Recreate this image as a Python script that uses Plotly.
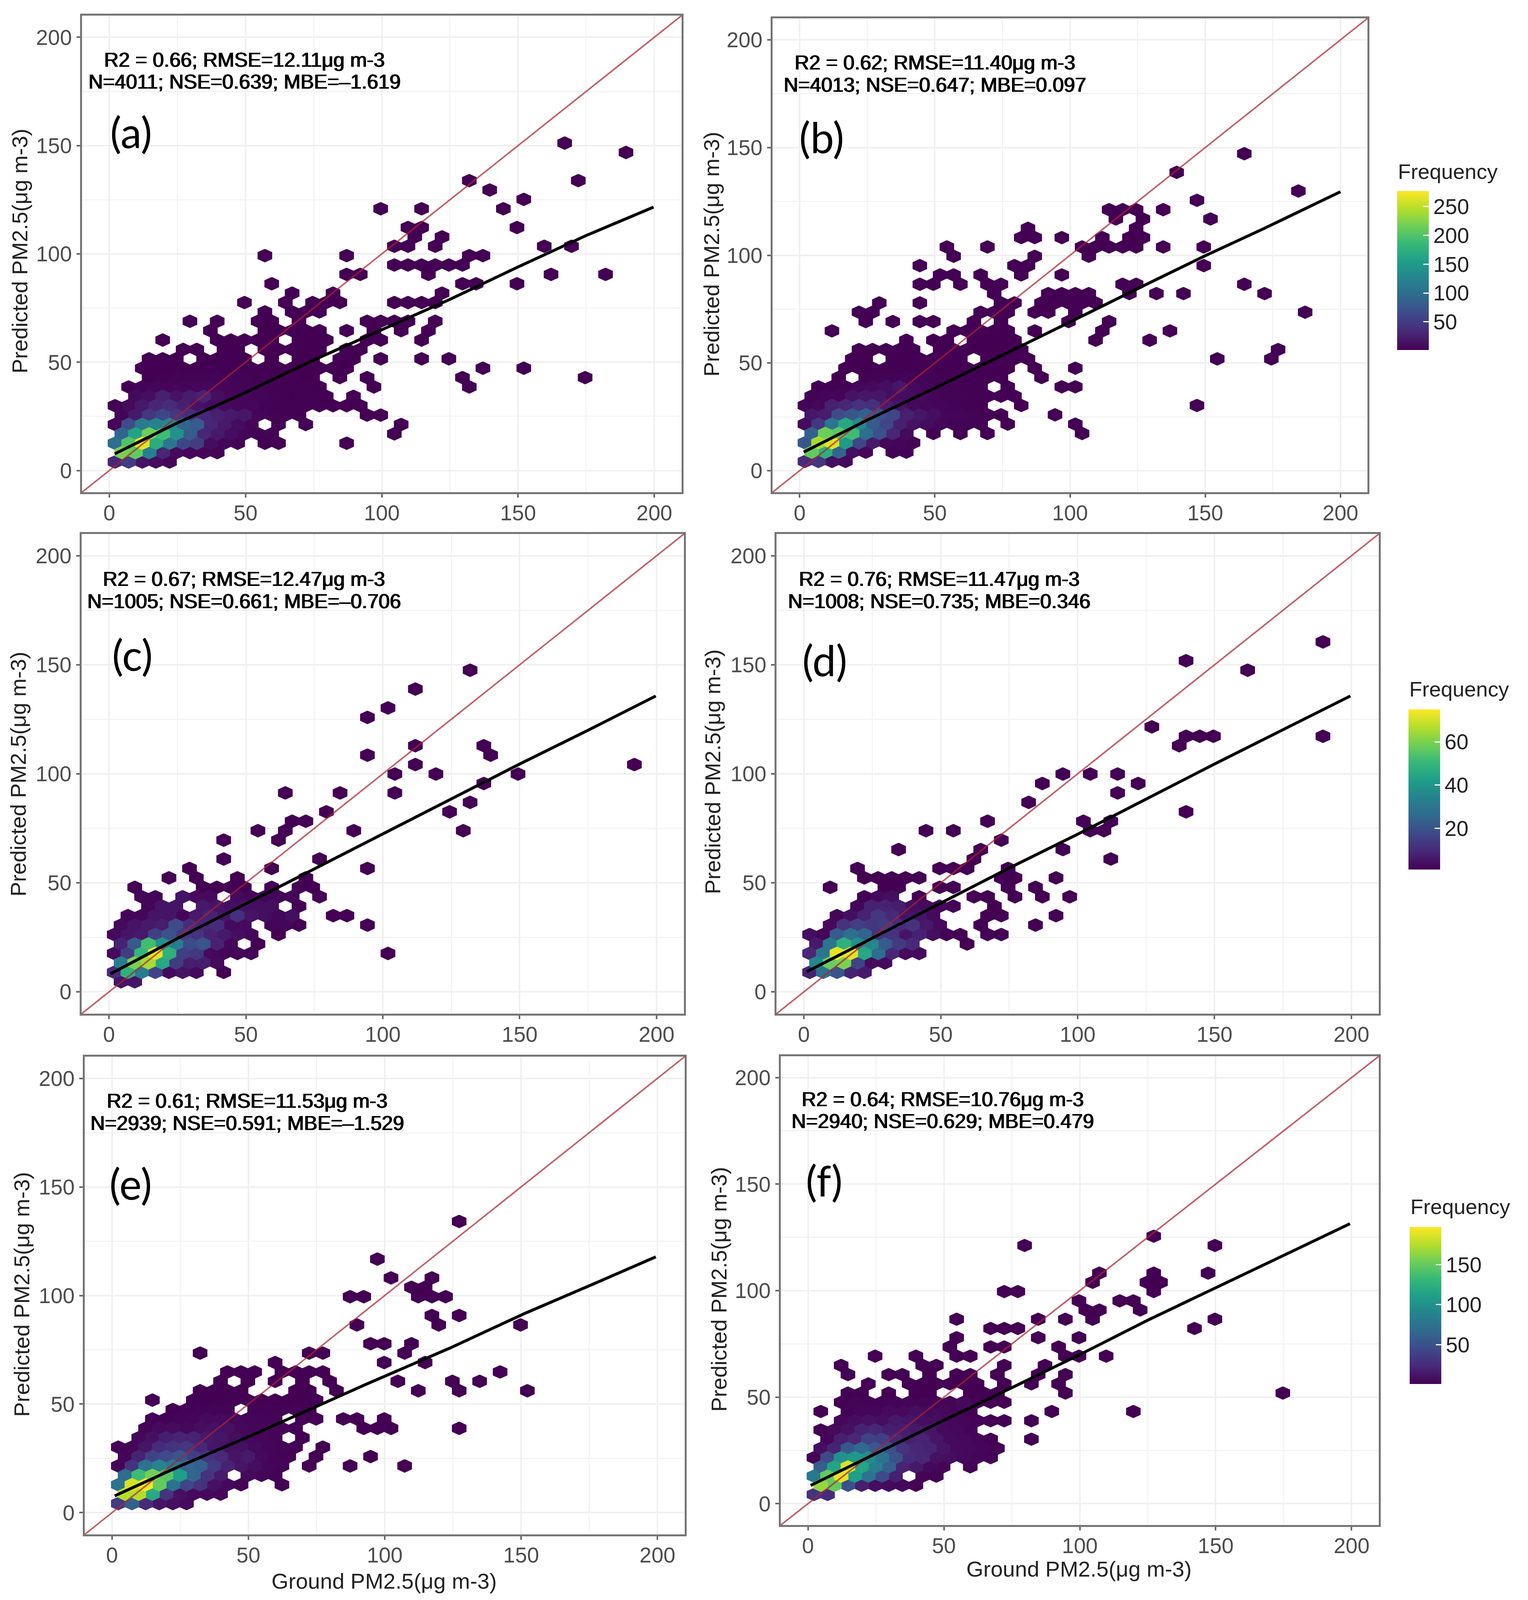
from itertools import zip_longest
import plotly.graph_objects as go
from plotly.colors import sample_colorscale

W, H = 3912, 4121
HEX_DX = 5.0
HEX_DY = 4.33

# Occupied hexagon bins: one list of column numbers per row, bottom row first.
a_cols = [[0,1,2,3,4],[0,1,2,3,4,5,6,7],[0,1,2,3,4,5,6,7,8,9,11,12,17],[0,1,2,3,4,5,6,7,8,9,10,11,20],
 [0,1,2,3,4,5,6,7,8,9,10,12,14,21],[0,1,2,3,4,5,6,7,8,9,10,11,12,13,18,19],[0,1,2,3,4,5,6,7,8,9,10,11,12,13,14,15,16,17,18],
 [1,2,3,4,5,6,7,8,9,10,11,12,13,14,15,17],[1,2,3,4,5,6,7,8,9,10,11,12,13,14,15,19,26],[2,3,4,5,6,7,8,9,10,11,12,13,14,16,18,25,34],
 [2,3,4,5,6,7,8,9,10,11,12,13,14,15,16,17,27,30],[2,3,4,6,7,8,9,11,13,14,16,17,19,22,24],[5,6,8,9,11,12,13,14,15,17,18],
 [3,7,8,9,10,11,13,14,15,18,19,22],[7,11,12,13,14,15,17,19,21,23],[5,7,10,11,13,18,19,20,21,23],[11,13,14,15],
 [9,12,14,15,16,20,21,22,23],[13,16,24],[11,25,26,29],[17,18,23,32,36],[20,21,22,23,24,25],[11,17,26,27],[20,21,23,31,33],
 [22,24],[21,22,29],[],[19,22,28],[30],[27],[26,34],[],[],[37],[33]]
a_counts = [[30,50,15,10,5],[220,210,120,30,8,5,5,3],[100,200,265,170,110,60,50,10,5,3],[90,160,215,190,140,80,30,20,10,5,3,3],
 [5,65,115,125,130,90,80,30,20,10,5,2],[3,20,45,60,45,35,30,25,20,18,5,3,2],[2,8,20,30,35,25,15,10,8,6,6,3,2,2,2],
 [8,12,25,15,22,28,12,5,5,4,3,2,2,2],[1,4,5,5,5,6,6,5,4,3,3,2,2,2],[1,2,3,3,3,4,3,3,2,2,2]]
b_cols = [[0,1,2,3],[0,1,2,3,4,6,7],[0,1,2,3,4,5,6,7,8],[0,1,2,3,4,5,6,7,9,11,13,20],[0,1,2,3,4,5,6,7,8,9,10,11,12,13,15,20],
 [0,1,2,3,4,5,6,7,8,9,10,11,12,13,14,18],[0,1,2,3,4,5,6,7,8,9,10,11,12,13,16,29],[0,1,2,3,4,5,6,7,8,9,10,11,12,13,14,15],
 [1,2,3,4,5,6,7,8,9,10,11,12,13,15,19,20],[2,4,5,6,7,8,9,10,11,12,13,14,17],[3,4,5,6,7,8,9,10,11,12,13,14,15,17,20],
 [3,4,6,7,8,9,10,11,13,14,15,16,30,34],[4,5,6,7,8,10,11,12,13,14,15,16,35],[7,9,10,12,13,14,15,21,25],[2,11,12,13,14,15,17,22,27],
 [4,6,8,9,12,14,19,22],[4,5,13,14,15,17,18,20,37],[5,8,14,15,17,18,19,20,21],[14,18,19,20,21,24,26,28,34],[8,9,11,13,14,23,24,32],
 [10,11,13,16,19],[8,15,16,29],[11,17,21],[10,13,20,21,22,23,24,26,29],[16,17,19,22,24,25],[16,24],[23,25,30],[22,23,24,26],[29],[36],[],[27],[],[32]]
b_counts = [[35,45,12,8],[210,175,90,12,6,3,3],[75,240,265,150,60,20,6,5,3],[85,215,205,190,100,70,30,8],
 [8,45,110,165,130,80,60,25,15,10,6,3,3,2],[18,22,65,75,85,70,60,25,18,12,5,4,3,2],[4,6,25,30,40,38,22,15,8,6,5,3,2],
 [3,4,5,15,18,18,12,10,8,4,3,3,2,2],[1,2,3,6,8,12,18,8,4,3,3,2,2],[1,2,3,3,4,3,3,2,2,2]]
c_cols = [[0,1],[0,1,2,3,4,5,6,8],[0,1,2,3,4,5,6,7],[0,1,2,3,4,5,6,7,8,9,10,20],[0,1,2,3,4,5,6,7,8,10],[0,1,2,3,4,5,6,7,8,9,10,12],
 [0,1,2,3,4,5,6,7,8,9,11,12,13,18],[1,2,3,4,5,6,7,8,9,10,11,12,13,16,17],[2,3,4,6,7,8,9,10,11,13],[2,3,5,6,7,9,10,11,12,13,15],
 [1,6,7,8,9,11,13,14],[4,6,9,14],[5,11,18],[8,15],[],[8,12],[10,12,17,25],[13,14],[15,24],[26],[12,16,20],[27],[20,23,29],[22,38],
 [18,27],[22,27],[],[],[18],[20],[],[22],[],[26]]
c_counts = [[5,5],[10,48,32,16,3,5,3],[32,60,65,45,14,7,7,3],[3,14,50,72,48,15,13,3,2,2,2],[8,22,52,38,32,18,20,8,2],
 [3,5,6,15,20,14,12,8,6,4,2],[3,5,6,7,18,10,9,10,3,3,2,2],[2,2,5,5,2,6,8,5,11,5,4,2,4],[2,5,5,6,5,4,4,4,4],[2,2,5,3,3,3,2,2,2,2,2]]
d_cols = [[],[0,1,2,3,4],[0,1,2,3,4,5],[0,1,2,3,4,5,6,7,8],[0,1,2,3,4,5,6,7,11],[0,1,2,3,4,5,6,7,8,9,10,11,13,14],[1,2,3,4,5,6,7,8,9,12,16],
 [2,3,4,5,6,7,8,9,13,14,18],[3,4,5,6,7,8,9,10,13],[4,5,6,8,12,13,15,17,19],[1,5,6,9,10,14,16],[4,5,6,7,8,14,15,18],[3,9,10,11,14],[12,22],
 [6,12,18],[14],[8,10,20,21],[13,20,22],[27],[16],[22],[17,24],[18,20,22],[],[],[27],[27,28,29,37],[25],[],[],[],[],[],[32],[27],[],[37]]
d_counts = [[],[8,28,20,8,6],[35,58,60,16,3,3],[9,30,72,72,45,27,9,3,3],[6,30,48,38,35,22,14,10],[4,2,22,28,25,12,12,5,8,4],
 [3,12,15,13,14,10,12,6,3],[2,4,8,13,10,5,5,3],[2,8,8,7,4,3,2],[1,3,4]]
e_cols = [[0,1,2,3,4,5],[0,1,2,3,4,5,6,7],[0,1,2,3,4,5,6,7,8,9,12],[0,1,2,3,4,5,6,7,9,10,11],[0,1,2,3,4,5,6,7,8,9,10,11,12,14,17,21],
 [0,1,2,3,4,5,6,7,8,9,10,11,12,14,18],[0,1,2,3,4,5,6,7,8,9,10,11,12,13,15],[1,2,3,4,5,6,7,8,9,10,11,13],[2,3,4,5,6,7,8,9,10,11,12,13,18,19,20,25],
 [2,3,4,5,6,7,8,9,10,11,13,14,16,17,19],[4,5,6,7,8,10,11,12,13,14],[2,5,6,7,8,9,10,11,12,13,14],[6,7,8,9,13,14,16,22,25,30],[7,9,11,13,15,20,24,26],
 [8,9,10,12,13,14,15,28],[11,19,22],[6,14,15,21],[18,19,21],[],[17,23,29],[23,25],[],[17,18,22,23,24],[21,22],[20,23],[],[19],[],[],[],[25]]
e_counts = [[35,60,25,12,8,6],[175,175,120,30,10,6,5,4],[75,185,195,150,75,42,30,10,5,3],[70,135,155,145,110,65,30,15,5,3,2],
 [3,30,75,90,80,65,60,35,20,12,8,4,3],[4,20,40,45,52,38,30,25,12,15,5,3,2],[2,3,12,25,30,32,22,12,10,10,6,4,3,2],
 [5,10,18,20,20,14,12,8,5,4,3],[3,6,7,5,8,10,10,5,4,4,3,2],[2,2,3,4,6,6,5,4,3,3,2,2],[1,2,2,3,3,2,2,2,2]]
f_cols = [[0,1],[0,1,2,3,4,5,6,7],[0,1,2,3,4,5,6,8,9],[0,1,2,3,4,5,6,7,8,9,11],[0,1,2,3,4,5,6,7,8,9,10,11,12,13],[0,1,2,3,4,5,6,7,8,9,10,11,12,13],
 [1,2,3,4,5,6,7,8,9,10,11,12,13,16],[0,1,2,3,4,5,6,7,8,9,10,11],[2,3,4,5,6,7,8,9,10,11,12,13,14,16],[0,2,3,4,5,6,7,8,9,10,11,17,23],
 [2,3,4,5,6,7,8,9,10,11,12,13,14],[2,3,5,7,8,11,12,13,18,34],[4,7,8,9,10,11,12,14,16,18],[2,5,6,8,10,11,13,16,18],[2,8,9,14,17],[4,7,10,11,18,19,21],
 [10,13,14,18],[10,16,19],[13,14,15,28],[10,16,18,20,29],[20,21,24],[19,22,23],[14,15,25],[20,24,25],[21,25,29],[],[],[15,29],[25]]
f_counts = [[30,25],[165,150,50,18,8,6,5,3],[80,150,190,110,75,45,18,3,2],[60,115,185,115,85,60,20,14,6,3,2],
 [3,45,100,105,95,75,50,25,22,10,8,5,4,2],[8,20,55,68,55,50,30,22,20,12,6,5,4,2],[4,18,22,40,38,22,18,20,12,6,5,4],
 [1,6,10,20,22,18,16,14,12,6,5,3],[5,8,10,8,14,12,9,8,5,4,2],[1,2,4,4,6,6,8,6,5,4,2],[1,3,2,2,3,3,3,3,3,6,2]]

# Fitted black lines
a_fit_x = [2,25,50,75,100,125,150,175,199.7]
a_fit_y = [7.7,22,36,51,65,79,94,108.5,121.6]
b_fit_x = [1.5,25,50,82,100,125,150,172,200]
b_fit_y = [8.6,23.5,38.3,57.8,69,84.5,99.8,112.6,129.5]
c_fit_x = [0.5,25,58,103.5,129,150,175,199.7]
c_fit_y = [8.2,24.5,45.5,74.5,91,104.5,120,135.7]
d_fit_x = [1,25,50,74.5,100,126.8,150,199.6]
d_fit_y = [9.2,24.7,40.7,56.5,72.3,89.5,104.5,135.7]
e_fit_x = [1,25,51.4,92.6,123.9,150.9,177.8,199.4]
e_fit_y = [7.75,21.5,35.7,58.8,75.8,91.5,106,117.8]
f_fit_x = [1,24.8,49.8,74.3,99.9,124.8,150.4,175.3,199.4]
f_fit_y = [8.6,23.6,39,54,69.9,86,101.6,116.7,131.4]

stat_lines = {
 "a": ["R2 = 0.66; RMSE=12.11μg m-3", "N=4011; NSE=0.639; MBE=–1.619"],
 "b": ["R2 = 0.62; RMSE=11.40μg m-3", "N=4013; NSE=0.647; MBE=0.097"],
 "c": ["R2 = 0.67; RMSE=12.47μg m-3", "N=1005; NSE=0.661; MBE=–0.706"],
 "d": ["R2 = 0.76; RMSE=11.47μg m-3", "N=1008; NSE=0.735; MBE=0.346"],
 "e": ["R2 = 0.61; RMSE=11.53μg m-3", "N=2939; NSE=0.591; MBE=–1.529"],
 "f": ["R2 = 0.64; RMSE=10.76μg m-3", "N=2940; NSE=0.629; MBE=0.479"],
}

# name, columns, counts, fit x, fit y, x centre offset of even/odd rows, y of row 0,
# plot box (L,R,T,B in px), stats centre x, stat y1,y2, label xy, y title xy, colour group
panels = [
 ("a",a_cols,a_counts,a_fit_x,a_fit_y,(2.1,4.6),3.95,(210,1745,40,1260),625,153,209,(335,337),(50,643),0),
 ("b",b_cols,b_counts,b_fit_x,b_fit_y,(1.95,4.45),4.28,(1978,3501,47,1260),2393,160,217,(2103,350),(1821,651),0),
 ("c",c_cols,c_counts,c_fit_x,c_fit_y,(4.4,1.9),4.65,(209,1751,1367,2595),624,1482,1539,(339,1675),(47,1982),1),
 ("d",d_cols,d_counts,d_fit_x,d_fit_y,(4.6,2.1),4.65,(1988,3530,1367,2595),2404,1482,1539,(2111,1689),(1824,1976),1),
 ("e",e_cols,e_counts,e_fit_x,e_fit_y,(2.3,4.8),4.2,(217,1753,2705,3928),632,2818,2875,(334,3029),(55,3314),2),
 ("f",f_cols,f_counts,f_fit_x,f_fit_y,(2.2,4.7),4.3,(1999,3530,2704,3904),2413,2814,2870,(2110,3021),(1840,3301),2),
]

# cmin, cmax, tick values, bar px (L,R,T,B), title y
colour_groups = [
 (1,277,[50,100,150,200,250],(3577,3658,489,896),439),
 (1,75,[20,40,60],(3606,3687,1816,2226),1764),
 (1,197,[50,100,150],(3609,3690,3141,3543),3089),
]

def px(x): return x / W
def py(y): return 1 - y / H

fig = go.Figure()
layout = {}
ann = []
seen_groups = set()

for i, (name, cols, counts, fx, fy, xoff, y0, box, sx, sy1, sy2, lab, yt, grp) in enumerate(panels, 1):
    xa, ya = f"x{i}", f"y{i}"
    L, R, T, B = box
    cmin, cmax, tv, bar, title_y = colour_groups[grp]
    axis = dict(tick0=0, dtick=50, showgrid=True, gridcolor="#f0f0f0", gridwidth=4,
                minor=dict(dtick=25, tick0=0, showgrid=True, gridcolor="#f3f3f3", gridwidth=3, ticks=""),
                zeroline=False, showline=True, mirror=True, linecolor="#757575", linewidth=5,
                ticks="outside", ticklen=9, tickwidth=4, tickcolor="#666666",
                tickfont=dict(family="Liberation Sans", size=55, color="#4d4d4d"))
    layout[f"xaxis{i}"] = dict(axis, domain=[px(L), px(R)], range=[-10, 210], anchor=ya, ticklabelstandoff=-8)
    layout[f"yaxis{i}"] = dict(axis, domain=[py(B), py(T)], range=[-10, 210], anchor=xa, ticklabelstandoff=1)

    by_count = {}
    all_x, all_y, all_n = [], [], []
    for r, (row_cols, row_counts) in enumerate(zip(cols, counts + [[]] * (len(cols) - len(counts)))):
        yc = y0 + r * HEX_DY
        for c, n in zip_longest(row_cols, row_counts[:len(row_cols)], fillvalue=1):
            xc = xoff[r % 2] + c * HEX_DX
            all_x.append(xc); all_y.append(yc); all_n.append(n)
            hx, hy = HEX_DX / 2, HEX_DY * 2 / 3
            px_list, py_list = by_count.setdefault(n, ([], []))
            px_list += [xc, xc + hx, xc + hx, xc, xc - hx, xc - hx, xc, None]
            py_list += [yc + hy, yc + hy / 2, yc - hy / 2, yc - hy, yc - hy / 2, yc + hy / 2, yc + hy, None]

    for n in sorted(by_count):
        t = min(1, max(0, (n - cmin) / (cmax - cmin)))
        colour = sample_colorscale("Viridis", [t])[0]
        fig.add_trace(go.Scatter(x=by_count[n][0], y=by_count[n][1], mode="lines", fill="toself",
                                 fillcolor=colour, line=dict(color=colour, width=2.5),
                                 hoverinfo="skip", showlegend=False, xaxis=xa, yaxis=ya))

    marker = dict(color=all_n, cmin=cmin, cmax=cmax, colorscale="Viridis", size=1, opacity=0)
    if grp not in seen_groups:
        seen_groups.add(grp)
        bl, br, bt, bb = bar
        marker.update(showscale=True, colorbar=dict(
            x=px(bl), xanchor="left", xpad=0, y=py(bt), yanchor="top", ypad=0,
            thickness=br - bl, thicknessmode="pixels", len=bb - bt, lenmode="pixels",
            outlinewidth=0, tickvals=tv, ticks="inside", ticklen=14, tickwidth=3, tickcolor="white",
            tickprefix="\u200b\u00a0\u00a0",
            tickfont=dict(family="Liberation Sans", size=55, color="#222222")))
        ann.append(dict(text="Frequency", x=px(bl), y=py(title_y), xref="paper", yref="paper", xanchor="left",
                        yanchor="middle", showarrow=False,
                        font=dict(family="Liberation Sans", size=54, color="#222222")))
    fig.add_trace(go.Scatter(x=all_x, y=all_y, mode="markers", marker=marker, showlegend=False,
                             xaxis=xa, yaxis=ya))

    fig.add_trace(go.Scatter(x=[-10, 210], y=[-10, 210], mode="lines", line=dict(color="rgba(170,35,50,0.72)", width=4),
                             hoverinfo="skip", showlegend=False, xaxis=xa, yaxis=ya))
    fig.add_trace(go.Scatter(x=fx, y=fy, mode="lines", line=dict(color="black", width=7.5),
                             hoverinfo="skip", showlegend=False, xaxis=xa, yaxis=ya))

    stat_font = dict(family="Liberation Sans", size=51.5, color="black", shadow="1.5px 0 0 #000, -0.5px 0 0 #000")
    for text, ty in zip(stat_lines[name], (sy1, sy2)):
        ann.append(dict(text=text, x=px(sx), y=py(ty), xref="paper", yref="paper", xanchor="center",
                        yanchor="middle", showarrow=False, font=stat_font))
    ann.append(dict(text=f"({name})", x=px(lab[0]), y=py(lab[1]), xref="paper", yref="paper", xanchor="center",
                    yanchor="middle", showarrow=False, font=dict(family="Lato", size=108, color="black")))
    ann.append(dict(text="Predicted PM2.5(μg m-3)", x=px(yt[0]), y=py(yt[1]), xref="paper", yref="paper",
                    textangle=-90, xanchor="center", yanchor="middle", showarrow=False,
                    font=dict(family="Liberation Sans", size=56, color="#222222")))

for tx, ty in ((983, 4047), (2762, 4016)):
    ann.append(dict(text="Ground PM2.5(μg m-3)", x=px(tx), y=py(ty), xref="paper", yref="paper",
                    xanchor="center", yanchor="middle", showarrow=False,
                    font=dict(family="Liberation Sans", size=56, color="#222222")))

fig.update_layout(width=W, height=H, margin=dict(l=0, r=0, t=0, b=0), paper_bgcolor="white",
                  plot_bgcolor="white", showlegend=False, annotations=ann, **layout)
fig.write_html("out.html", config={"displayModeBar": False},
               post_script="document.body.style.margin='0';document.documentElement.style.overflow='hidden';")
